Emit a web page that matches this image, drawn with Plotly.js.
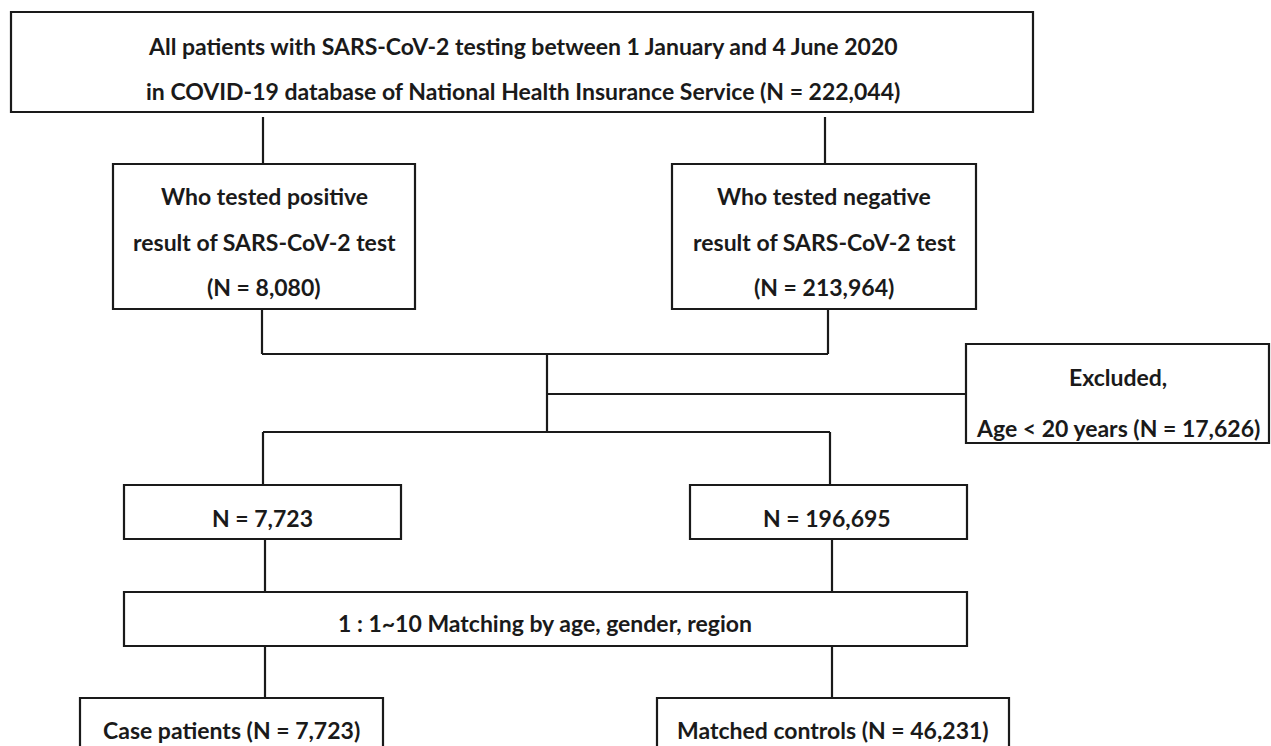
<!DOCTYPE html>
<html>
<head>
<meta charset="utf-8">
<script src="https://cdn.plot.ly/plotly-3.0.1.min.js"></script>
<style>html,body{margin:0;padding:0;background:#fff;}#chart{width:1271px;height:746px;}</style>
</head>
<body>
<div id="chart"></div>
<script>
// ---- values ----
const totalN = 222044;
const positiveN = 8080;
const negativeN = 213964;
const excludedN = 17626;
const eligibleCasesN = 7723;
const eligibleControlsN = 196695;
const casePatientsN = 7723;
const matchedControlsN = 46231;

const studyPeriod = ["1 January", "4 June 2020"];
const exclusionRule = "Age < 20 years";
const matchingRule = "1 : 1~10 Matching by age, gender, region";

function fmt(n){ return n.toLocaleString("en-US"); }

// ---- texts per box (lines) ----
const boxLines = {
  top: ["All patients with SARS-CoV-2 testing between " + studyPeriod[0] + " and " + studyPeriod[1],
        "in COVID-19 database of National Health Insurance Service (N = " + fmt(totalN) + ")"],
  pos: ["Who tested positive", "result of SARS-CoV-2 test", "(N = " + fmt(positiveN) + ")"],
  neg: ["Who tested negative", "result of SARS-CoV-2 test", "(N = " + fmt(negativeN) + ")"],
  excl: ["Excluded,", exclusionRule + " (N = " + fmt(excludedN) + ")"],
  nCase: ["N = " + fmt(eligibleCasesN)],
  nCtrl: ["N = " + fmt(eligibleControlsN)],
  match: [matchingRule],
  cases: ["Case patients (N = " + fmt(casePatientsN) + ")"],
  ctrls: ["Matched controls (N = " + fmt(matchedControlsN) + ")"]
};

// ---- layout geometry (pixel space of the axes) ----
const boxGeom = {
  top:   {x0: 11,  x1: 1033, y0: 12,  y1: 112, cx: 523, ys: [46, 91]},
  pos:   {x0: 113, x1: 415,  y0: 164, y1: 309, cx: 264, ys: [196, 242, 287]},
  neg:   {x0: 672, x1: 976,  y0: 164, y1: 309, cx: 824, ys: [196, 242, 287]},
  excl:  {x0: 966, x1: 1269, y0: 344, y1: 443, cx: 1118, ys: [377, 428]},
  nCase: {x0: 124, x1: 401,  y0: 485, y1: 539, cx: 262, ys: [518]},
  nCtrl: {x0: 690, x1: 967,  y0: 485, y1: 539, cx: 827, ys: [518]},
  match: {x0: 124, x1: 967,  y0: 592, y1: 646, cx: 545, ys: [623]},
  cases: {x0: 80,  x1: 383,  y0: 698, y1: 780, cx: 231, ys: [730]},
  ctrls: {x0: 657, x1: 1009, y0: 698, y1: 780, cx: 833, ys: [730]}
};

const connectors = [
  [263, 117, 263, 163],
  [825, 117, 825, 163],
  [262, 309, 262, 354],
  [828, 309, 828, 354],
  [262, 354, 828, 354],
  [547, 354, 547, 432],
  [547, 394, 966, 394],
  [263, 432, 830, 432],
  [263, 432, 263, 485],
  [830, 432, 830, 485],
  [265, 539, 265, 592],
  [832, 539, 832, 592],
  [265, 646, 265, 698],
  [832, 646, 832, 698]
];

const lineColor = "#1a1a1a";
const shapes = [];
const annotations = [];

Object.keys(boxGeom).forEach(k => {
  const g = boxGeom[k];
  shapes.push({type: "rect", xref: "x", yref: "y", x0: g.x0, x1: g.x1, y0: g.y0, y1: g.y1,
    line: {color: lineColor, width: 2.2}, fillcolor: "rgba(0,0,0,0)"});
  boxLines[k].forEach((t, i) => {
    annotations.push({xref: "x", yref: "y", x: g.cx, y: g.ys[i], text: t, showarrow: false,
      xanchor: "center", yanchor: "middle",
      font: {family: "Lato, 'Open Sans', sans-serif", size: 23, color: "#1a1a1a", weight: 700}});
  });
});
connectors.forEach(c => {
  shapes.push({type: "line", xref: "x", yref: "y", x0: c[0], y0: c[1], x1: c[2], y1: c[3],
    line: {color: lineColor, width: 2.2}});
});

const layout = {
  width: 1271, height: 746,
  margin: {l: 0, r: 0, t: 0, b: 0, pad: 0},
  paper_bgcolor: "#ffffff", plot_bgcolor: "#ffffff",
  xaxis: {range: [0, 1271], visible: false, fixedrange: true},
  yaxis: {range: [746, 0], visible: false, fixedrange: true},
  showlegend: false,
  shapes: shapes,
  annotations: annotations
};

Plotly.newPlot("chart", [{x: [], y: [], type: "scatter", mode: "markers", hoverinfo: "skip"}], layout,
  {displayModeBar: false, staticPlot: true});
</script>
</body>
</html>
